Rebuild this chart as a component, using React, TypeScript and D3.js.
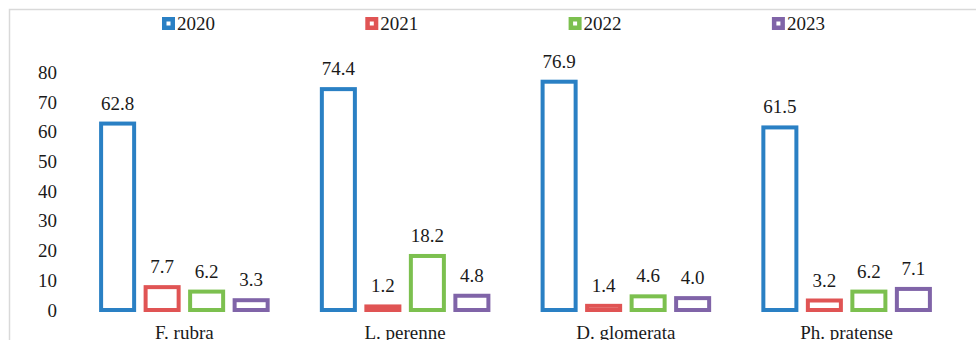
import React from "react";
import * as d3 from "d3";

const categories = ["F. rubra", "L. perenne", "D. glomerata", "Ph. pratense"];
const seriesNames = ["2020", "2021", "2022", "2023"];
const values2020 = [62.8, 74.4, 76.9, 61.5];
const values2021 = [7.7, 1.2, 1.4, 3.2];
const values2022 = [6.2, 18.2, 4.6, 6.2];
const values2023 = [3.3, 4.8, 4.0, 7.1];
const yTicks = [0, 10, 20, 30, 40, 50, 60, 70, 80];
const colors = ["#2a80c4", "#e05454", "#7cc04f", "#8064a8"];

const seriesValues = [values2020, values2021, values2022, values2023];

export default function App() {
  const W = 976;
  const H = 340;
  const font = "'Liberation Serif', 'Times New Roman', serif";
  const y = d3.scaleLinear().domain([0, 80]).range([310, 72.5]);
  const x0 = d3.scaleBand<string>().domain(categories).range([74, 957]).padding(0);
  const x1 = d3
    .scaleBand<string>()
    .domain(seriesNames)
    .range([0, x0.bandwidth()])
    .paddingInner(0.258)
    .paddingOuter(0.609);
  const sw = 4;

  return (
    <svg
      width={W}
      height={H}
      style={{ position: "absolute", left: 0, top: 0, background: "#fff" }}
      fontFamily={font}
    >
      <rect x={0} y={0} width={W} height={H} fill="#fff" />
      <rect x={9.5} y={9.5} width={1200} height={600} fill="none" stroke="#d9d9d9" strokeWidth={1.5} />

      {/* legend */}
      {seriesNames.map((s, i) => {
        const lx = 162 + i * 203.3;
        return (
          <g key={s}>
            <rect x={lx + 2.25} y={19.25} width={8.5} height={8.5} fill="#fff" stroke={colors[i]} strokeWidth={4.5} />
            <text x={lx + 15} y={29.5} fontSize={19} fill="#1a1a1a">
              {s}
            </text>
          </g>
        );
      })}

      {/* y tick labels */}
      {yTicks.map((t) => (
        <text key={t} x={57} y={y(t) + 6.5} fontSize={19} textAnchor="end" fill="#1a1a1a">
          {t}
        </text>
      ))}

      {/* bars */}
      {categories.map((c, ci) => (
        <g key={c} transform={`translate(${x0(c)},0)`}>
          {seriesNames.map((s, si) => {
            const v = seriesValues[si][ci];
            const bx = x1(s)!;
            const bw = x1.bandwidth();
            const top = y(v);
            return (
              <g key={s}>
                <rect
                  x={bx}
                  y={top}
                  width={bw}
                  height={y(0) - top}
                  fill="#fff"
                  stroke={colors[si]}
                  strokeWidth={sw}
                />
                <text x={bx + bw / 2} y={top - 14} fontSize={19} textAnchor="middle" fill="#1a1a1a">
                  {v.toFixed(1)}
                </text>
              </g>
            );
          })}
          <text x={x0.bandwidth() / 2} y={339} fontSize={19} textAnchor="middle" fill="#1a1a1a">
            {c}
          </text>
        </g>
      ))}
    </svg>
  );
}
